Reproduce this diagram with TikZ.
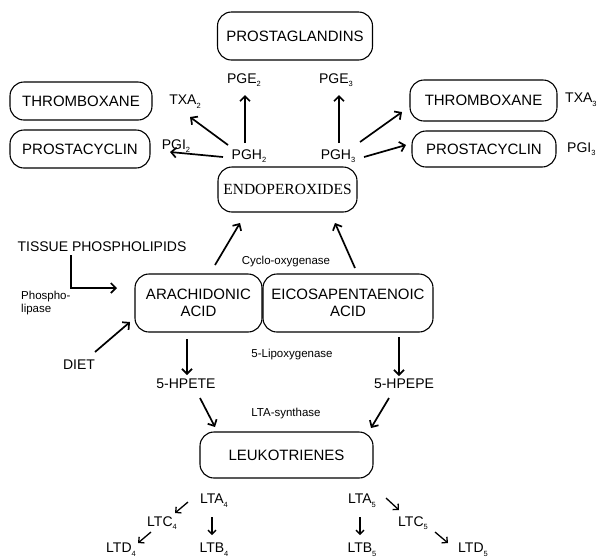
\documentclass[tikz,border=0pt]{standalone}
\usepackage{fontspec}
\setmainfont{Liberation Sans}
\newfontfamily\serifen{Liberation Serif}
\usetikzlibrary{arrows.meta,calc}
\newcommand\sbs[1]{\raisebox{-0.5ex}{\fontsize{7.5}{7.5}\selectfont #1}}
\tikzset{
  box/.style={draw, line width=1.1pt, rounded corners=14pt, inner sep=0pt, align=center, font=\fontsize{15}{17.5}\selectfont},
  lbl/.style={inner sep=1pt, font=\fontsize{14}{15}\selectfont},
  small/.style={inner sep=1pt, font=\fontsize{11.5}{13}\selectfont},
  arr/.style={line width=1.7pt, -{Straight Barb[length=5pt,width=10pt,line width=1.7pt]}},
  sarr/.style={line width=1.3pt, -{Straight Barb[length=4pt,width=8pt,line width=1.3pt]}}
}
\begin{document}
\begin{tikzpicture}[x=1pt,y=-1pt]
\useasboundingbox (0,0) rectangle (599,558);
% boxes
\node[box, minimum width=155, minimum height=48] (prost) at (295,36) {PROSTAGLANDINS};
\node[box, minimum width=142, minimum height=38] (thl) at (81,101) {THROMBOXANE};
\node[box, minimum width=140, minimum height=38] (pcl) at (80,149) {PROSTACYCLIN};
\node[box, minimum width=147, minimum height=41] (thr) at (483.5,100.5) {THROMBOXANE};
\node[box, minimum width=144, minimum height=36] (pcr) at (484,149) {PROSTACYCLIN};
\node[box, minimum width=139, minimum height=45, font=\serifen\fontsize{15.5}{17}\selectfont] (endo) at (287.5,189.5) {ENDOPEROXIDES};
\node[box, minimum width=127, minimum height=58] (aa) at (198.5,303) {ARACHIDONIC\\ACID};
\node[box, minimum width=170, minimum height=58] (epa) at (348,303) {EICOSAPENTAENOIC\\ACID};
\node[box, minimum width=173, minimum height=46] (leuk) at (286.5,455) {LEUKOTRIENES};
% labels
\node[lbl] (pge2) at (244,80) {PGE\sbs{2}};
\node[lbl] (pge3) at (336,80) {PGE\sbs{3}};
\node[lbl] (pgh2) at (249,156) {PGH\sbs{2}};
\node[lbl] (pgh3) at (338,156) {PGH\sbs{3}};
\node[lbl] (txa2) at (185,102) {TXA\sbs{2}};
\node[lbl] (pgi2) at (176,146) {PGI\sbs{2}};
\node[lbl, anchor=west] (txa3) at (564,100) {TXA\sbs{3}};
\node[lbl, anchor=west] (pgi3) at (566,149) {PGI\sbs{3}};
\node[lbl] (tissue) at (102,247) {TISSUE PHOSPHOLIPIDS};
\node[small, anchor=west, align=left, font=\fontsize{11.5}{13}\selectfont] (phos) at (20,303) {Phospho-\\lipase};
\node[lbl] (diet) at (79,365) {DIET};
\node[small] (cyclo) at (286,262) {Cyclo-oxygenase};
\node[small] (lipox) at (292,355) {5-Lipoxygenase};
\node[lbl] (hpete) at (186,384) {5-HPETE};
\node[lbl] (hpepe) at (404,384) {5-HPEPE};
\node[small] (ltasyn) at (286,414) {LTA-synthase};
\node[lbl] (lta4) at (214,501) {LTA\sbs{4}};
\node[lbl] (ltc4) at (162,523) {LTC\sbs{4}};
\node[lbl] (ltd4) at (121,550) {LTD\sbs{4}};
\node[lbl] (ltb4) at (214,550) {LTB\sbs{4}};
\node[lbl] (lta5) at (362,501) {LTA\sbs{5}};
\node[lbl] (ltc5) at (413,523) {LTC\sbs{5}};
\node[lbl] (ltd5) at (473,550) {LTD\sbs{5}};
\node[lbl] (ltb5) at (362,550) {LTB\sbs{5}};
% arrows
\draw[arr] ($(pgh2)+(-4,-13)$) -- ($(pge2)+(1,15)$);
\draw[arr] ($(pgh3)+(1,-13)$) -- ($(pge3)+(3,15)$);
\draw[arr] ($(pgh2)+(-21,-11)$) -- ($(txa2)+(5,15)$);
\draw[arr] ($(pgh2)+(-26,1)$) -- ($(pgi2)+(-6,6)$);
\draw[arr] ($(pgh3)+(22,-14)$) -- ($(thr)+(-81.5,11.5)$);
\draw[arr] ($(pgh3)+(26,1)$) -- ($(pcr)+(-78,-4)$);
\draw[arr] ($(aa)+(16.5,-38)$) -- ($(endo)+(-47.5,33.5)$);
\draw[arr] ($(epa)+(7,-35)$) -- ($(endo)+(47.5,33.5)$);
\draw[arr] ($(tissue)+(-31,8)$) |- ($(aa)+(-81.5,-15)$);
\draw[arr] ($(diet)+(16,-13)$) -- ($(aa)+(-68.5,19)$);
\draw[arr] ($(aa)+(-11.5,36)$) -- ($(hpete)+(1,-9)$);
\draw[arr] ($(epa)+(51,34)$) -- ($(hpepe)+(-5,-8)$);
\draw[arr] ($(hpete)+(14,14)$) -- ($(leuk)+(-71.5,-28)$);
\draw[arr] ($(hpepe)+(-15,14)$) -- ($(leuk)+(84.5,-27)$);
\draw[sarr] ($(lta4)+(-26,1)$) -- ($(ltc4)+(13,-10)$);
\draw[sarr] ($(ltc4)+(-11,9)$) -- ($(ltd4)+(17,-7)$);
\draw[sarr] ($(lta4)+(-2,16)$) -- ($(ltb4)+(-2,-15)$);
\draw[sarr] ($(lta5)+(24,-3)$) -- ($(ltc5)+(-14,-13)$);
\draw[sarr] ($(ltc5)+(22,9)$) -- ($(ltd5)+(-25,-7)$);
\draw[sarr] ($(lta5)+(-2,16)$) -- ($(ltb5)+(-2,-15)$);
\end{tikzpicture}
\end{document}
